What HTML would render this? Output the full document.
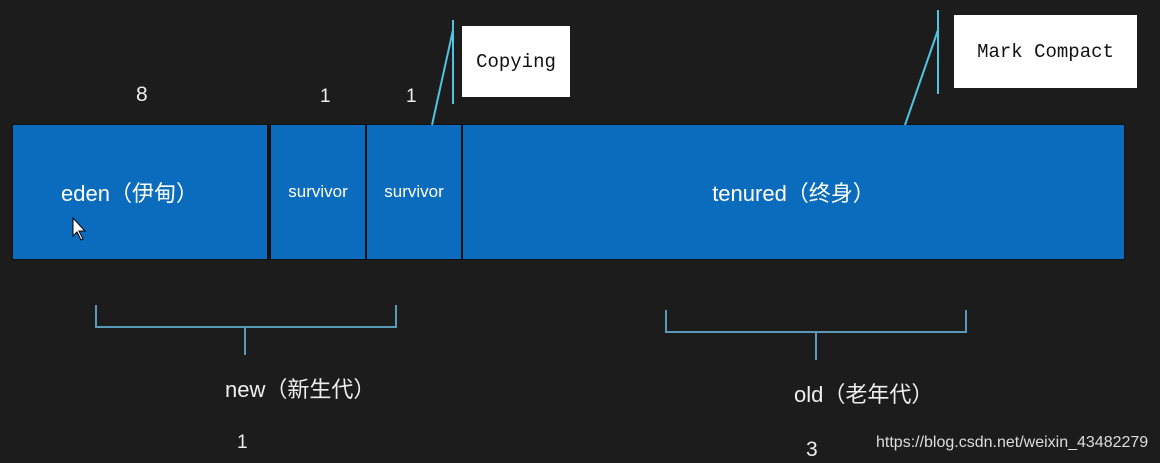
<!DOCTYPE html>
<html><head><meta charset="utf-8"><style>
body{margin:0;width:1160px;height:463px;background:#1c1c1c;overflow:hidden;position:relative;font-family:"Liberation Sans","Noto Sans CJK SC",sans-serif;color:#eee}
.t{position:absolute;white-space:nowrap}
.b{position:absolute;top:125px;height:134px;background:#0b6cbd;color:#fff;display:flex;align-items:center;justify-content:center;border-right:2px solid #111}
.w{position:absolute;background:#fff;color:#111;font-family:"Liberation Mono",monospace;font-size:19px;display:flex;align-items:center;justify-content:center}
</style></head><body>
<div style="position:absolute;left:12px;top:124px;width:1113px;height:136px;background:#111"></div>
<div class="b" style="left:13px;width:256px;font-size:22px;justify-content:flex-start;padding-left:48px;box-sizing:border-box">eden（伊甸）</div>
<div class="b" style="left:271px;width:94px;font-size:17px">survivor</div>
<div class="b" style="left:367px;width:94px;font-size:17px">survivor</div>
<div class="b" style="left:463px;width:661px;font-size:22px;border-right:none">tenured（终身）</div>
<div class="w" style="left:462px;top:26px;width:108px;height:71px">Copying</div>
<div class="w" style="left:954px;top:15px;width:183px;height:73px">Mark Compact</div>
<div class="t" style="left:136px;top:83px;font-size:21px">8</div>
<div class="t" style="left:320px;top:86px;font-size:19px">1</div>
<div class="t" style="left:406px;top:86px;font-size:19px">1</div>
<div class="t" style="left:225px;top:372px;font-size:22px">new（新生代）</div>
<div class="t" style="left:794px;top:377px;font-size:22px">old（老年代）</div>
<div class="t" style="left:237px;top:432px;font-size:19px">1</div>
<div class="t" style="left:806px;top:438px;font-size:21px">3</div>
<div class="t" style="left:876px;top:434px;font-size:16px;color:#ddd">https://blog.csdn.net/weixin_43482279</div>
<svg width="1160" height="463" style="position:absolute;left:0;top:0" fill="none">
<g stroke="#4fc3e0" stroke-width="2">
<line x1="453" y1="20" x2="453" y2="104"/><line x1="453" y1="30" x2="432" y2="125"/>
<line x1="938" y1="10" x2="938" y2="94"/><line x1="938" y1="30" x2="905" y2="125"/>
</g>
<g stroke="#5a9ab8" stroke-width="2">
<path d="M96 305 V327 H396 V305 M245 327 V355"/>
<path d="M666 310 V332 H966 V310 M816 332 V360"/>
</g>
<path d="M73 218 L73 236 L77 232 L81 240 L83 239 L79 231 L85 231 Z" fill="#fff" stroke="#000" stroke-width="1"/>
</svg>
</body></html>
